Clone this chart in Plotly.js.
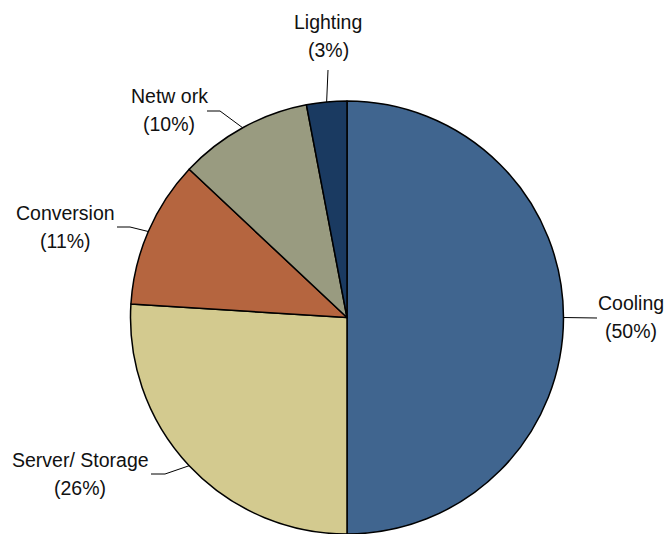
<!DOCTYPE html>
<html>
<head>
<meta charset="utf-8">
<script src="https://cdn.plot.ly/plotly-3.0.1.min.js"></script>
<style>
html,body{margin:0;padding:0;background:#fff;}
#chart{width:664px;height:534px;}
</style>
</head>
<body>
<div id="chart"></div>
<script>
// ---- data ----
const categories = ["Cooling", "Server/ Storage", "Conversion", "Netw ork", "Lighting"];
const values = [50, 26, 11, 10, 3];
const pctLabels = ["(50%)", "(26%)", "(11%)", "(10%)", "(3%)"];
const colors = ["#40658F", "#D3CA8F", "#B5653F", "#999B80", "#1A3A61"];

// ---- layout (pixels) ----
const W = 664, H = 534;
const cx = 347, R = 217;
const domX = [(cx - R) / W, (cx + R) / W];
const domY = [0, 1 - 101 / H];
const cy = H - (domY[1] - domY[0]) * H / 2;
const r = Math.min((domX[1] - domX[0]) * W, (domY[1] - domY[0]) * H) / 2;

// label text centres and leader elbow points (px)
const labelPos = [[631, 317], [80, 474], [65, 227], [169, 110], [328, 36]];
const lineGap = 28;
const elbows = [[[597, 318]], [[165, 474], [151, 474]], [[130, 227], [117, 227]], [[220, 111], [207, 111]], [[328, 70]]];

const px = x => x / W;
const py = y => 1 - y / H;
const font = {family: 'Liberation Sans, Arial, sans-serif', size: 19.5, color: '#111'};

const total = values.reduce((a, b) => a + b, 0);
let cum = 0;
const annotations = [];
const shapes = [];
values.forEach((v, i) => {
  const mid = (cum + v / 2) / total * 2 * Math.PI; // clockwise from top
  cum += v;
  const ex = cx + r * Math.sin(mid);
  const ey = cy - r * Math.cos(mid);
  let path = `M ${px(ex)} ${py(ey)}`;
  elbows[i].forEach(p => { path += ` L ${px(p[0])} ${py(p[1])}`; });
  shapes.push({type: 'path', xref: 'paper', yref: 'paper', path: path,
    line: {color: '#000', width: 1}});
  [categories[i], pctLabels[i]].forEach((t, k) => {
    annotations.push({
      xref: 'paper', yref: 'paper',
      x: px(labelPos[i][0]), y: py(labelPos[i][1] + (k === 0 ? -lineGap / 2 : lineGap / 2)),
      xanchor: 'center', yanchor: 'middle',
      text: t, showarrow: false, align: 'center', font: font
    });
  });
});

const trace = {
  type: 'pie',
  labels: categories,
  values: values,
  sort: false,
  direction: 'clockwise',
  rotation: 0,
  textinfo: 'none',
  hoverinfo: 'label+percent',
  marker: {colors: colors, line: {color: '#000', width: 1.5}},
  domain: {x: domX, y: domY},
  showlegend: false
};

Plotly.newPlot('chart', [trace], {
  width: W, height: H,
  margin: {l: 0, r: 0, t: 0, b: 0},
  paper_bgcolor: '#fff',
  showlegend: false,
  annotations: annotations,
  shapes: shapes
}, {displayModeBar: false, staticPlot: true});
</script>
</body>
</html>
